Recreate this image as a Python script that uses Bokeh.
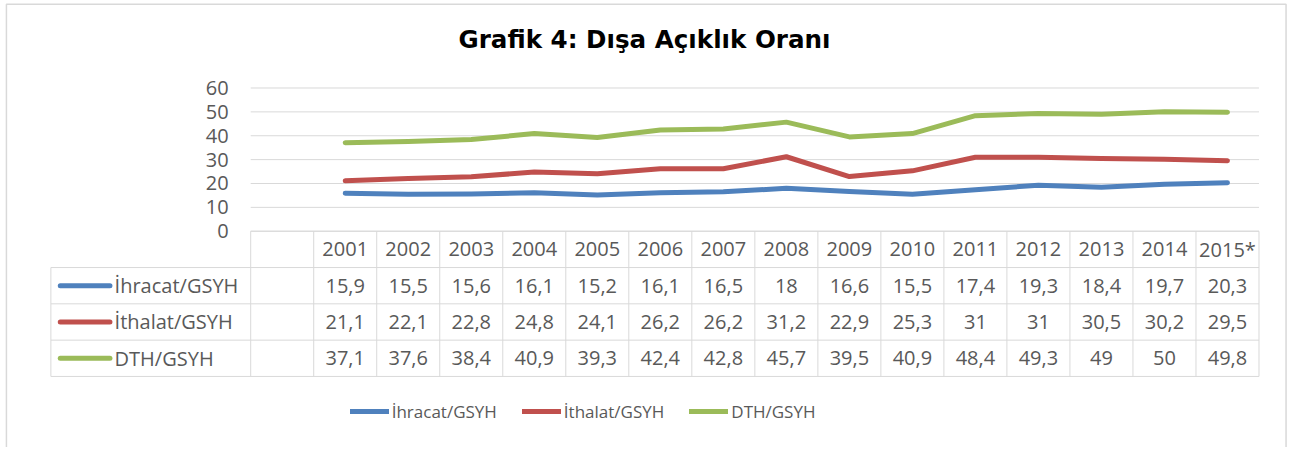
from bokeh.plotting import figure
from bokeh.models import Range1d, Legend, LegendItem, Label
from bokeh.core.properties import value
from bokeh.embed import file_html
from bokeh.resources import INLINE

# ---------------- data ----------------
years = ["2001", "2002", "2003", "2004", "2005", "2006", "2007", "2008",
         "2009", "2010", "2011", "2012", "2013", "2014", "2015*"]
ihracat = [15.9, 15.5, 15.6, 16.1, 15.2, 16.1, 16.5, 18.0, 16.6, 15.5, 17.4, 19.3, 18.4, 19.7, 20.3]
ithalat = [21.1, 22.1, 22.8, 24.8, 24.1, 26.2, 26.2, 31.2, 22.9, 25.3, 31.0, 31.0, 30.5, 30.2, 29.5]
dth = [37.1, 37.6, 38.4, 40.9, 39.3, 42.4, 42.8, 45.7, 39.5, 40.9, 48.4, 49.3, 49.0, 50.0, 49.8]
series_names = ["İhracat/GSYH", "İthalat/GSYH", "DTH/GSYH"]
series_values = [ihracat, ithalat, dth]
y_ticks = [0, 10, 20, 30, 40, 50, 60]
title_text = "Grafik 4: Dışa Açıklık Oranı"

# ---------------- style / layout ----------------
colors = ["#4F81BD", "#C0504D", "#9BBB59"]
FONT = "Open Sans"
TXT = "#595959"
GRID = "#D9D9D9"
FS = "20px"

W, H = 1290, 447          # figure size
RW, RH = 1306.0, 463.0    # design canvas
SX, SY = W / RW, H / RH
COLW = 63.8               # design px per category column
X_LEFT = 253.3            # design px of left edge of the table's year block
PXU = 2.473               # design px per y unit
Y_ZERO = 239.0            # design px of y = 0
ROW = 37.6 / PXU          # table row height in data units
x_pos = list(range(1, len(years) + 1))


def dx(px):
    return (px - X_LEFT) / COLW - 0.5


def dy(py):
    return (Y_ZERO - py) / PXU


p = figure(width=W, height=H, output_backend="svg", toolbar_location=None,
           x_range=Range1d(dx(0), dx(RW)), y_range=Range1d(dy(RH), dy(0)),
           min_border=0, min_border_left=0, min_border_right=0,
           min_border_top=0, min_border_bottom=0)
p.axis.visible = False
p.grid.visible = False
p.outline_line_color = None
p.background_fill_color = "white"
p.border_fill_color = "white"

# chart border
p.quad(left=[dx(6)], right=[dx(1301.5)], top=[dy(4)], bottom=[dy(480)],
       fill_color=None, line_color=GRID, line_width=1.5)

# ---------- horizontal gridlines (y axis ticks) ----------
p.segment(x0=[-0.5] * len(y_ticks), x1=[15.5] * len(y_ticks), y0=y_ticks, y1=y_ticks,
          line_color=GRID, line_width=1)
p.text(x=[dx(231)] * len(y_ticks), y=y_ticks, text=[str(t) for t in y_ticks],
       text_font=value(FONT), text_font_size=FS, text_color=TXT,
       text_align="right", text_baseline="middle")

# ---------- data table ----------
left_edge = dx(51)
n_rows = len(series_names)
row_bounds = [0 - ROW * k for k in range(n_rows + 2)]
hx0 = [-0.5] + [left_edge] * (n_rows + 1)
p.segment(x0=hx0, x1=[15.5] * len(row_bounds), y0=row_bounds, y1=row_bounds,
          line_color=GRID, line_width=1)
vx = [-0.5 + k for k in range(len(years) + 2)]
p.segment(x0=vx, x1=vx, y0=[0] * len(vx), y1=[row_bounds[-1]] * len(vx),
          line_color=GRID, line_width=1)
p.segment(x0=[left_edge], x1=[left_edge], y0=[row_bounds[1]], y1=[row_bounds[-1]],
          line_color=GRID, line_width=1)

p.text(x=x_pos, y=[-ROW / 2] * len(years), text=years,
       text_font=value(FONT), text_font_size=FS, text_color=TXT,
       text_align="center", text_baseline="middle")


def fmt(v):
    if float(v).is_integer():
        return str(int(v))
    return ("%.1f" % v).replace(".", ",")


for i, (name, vals, col) in enumerate(zip(series_names, series_values, colors)):
    yc = -ROW * (i + 1.5)
    p.text(x=x_pos, y=[yc] * len(vals), text=[fmt(v) for v in vals],
           text_font=value(FONT), text_font_size=FS, text_color=TXT,
           text_align="center", text_baseline="middle")
    p.segment(x0=[dx(60.5)], x1=[dx(110.8)], y0=[yc], y1=[yc], line_color=col,
              line_width=5, line_cap="round")
    p.text(x=[dx(115.5)], y=[yc], text=[name],
           text_font=value(FONT), text_font_size=FS, text_color=TXT,
           text_align="left", text_baseline="middle")

# ---------- series lines ----------
items = []
for name, vals, col in zip(series_names, series_values, colors):
    r = p.line(x=x_pos, y=vals, line_color=col, line_width=5,
               line_cap="round", line_join="round")
    items.append(LegendItem(label=name, renderers=[r]))

legend = Legend(items=items, orientation="horizontal",
                location=(352 * SX + 2, (RH - 426) * SY - 11.5),
                glyph_width=39, glyph_height=20, label_standoff=3, spacing=25,
                padding=0, margin=0, border_line_color=None,
                background_fill_alpha=0,
                label_text_font=FONT, label_text_font_size="17px",
                label_text_color=TXT)
p.add_layout(legend)

# ---------- title ----------
p.add_layout(Label(x=652 * SX, y=H - 40 * SY, x_units="screen", y_units="screen",
                   text=title_text, text_font="DejaVu Sans", text_font_style="bold",
                   text_font_size="24.6px", text_color="black",
                   text_align="center", text_baseline="middle"))

open("out.html", "w").write(file_html(p, INLINE))
